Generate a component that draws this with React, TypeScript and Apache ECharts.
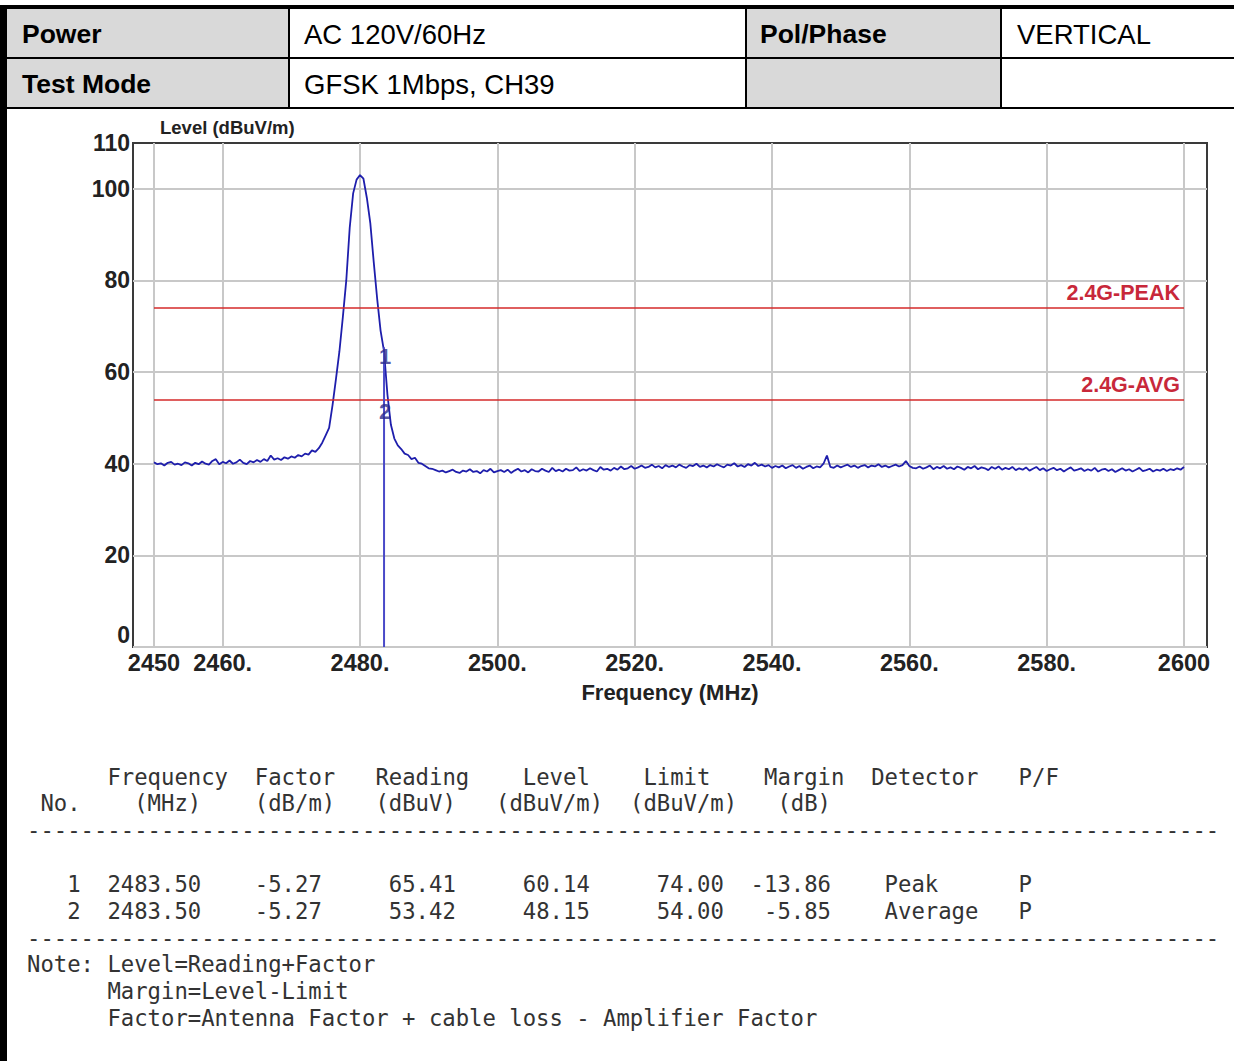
import React, { useEffect, useRef } from "react";
import * as echarts from "echarts";

// ---------------- data ----------------
const FREQ_START = 2450; // MHz, sweep start
const FREQ_STEP = 0.5; // MHz, sweep step
const LEVELS = [
  40.3, 39.9, 40.1, 39.6, 40.2, 40.4, 39.8, 40.0, 39.7, 40.3,
  40.1, 39.6, 40.2, 39.9, 40.5, 40.0, 39.8, 40.6, 41.0, 39.9,
  40.4, 40.1, 40.7, 40.0, 40.3, 40.9, 40.2, 39.9, 40.6, 40.3,
  40.8, 40.4, 41.0, 40.6, 41.8, 40.9, 41.2, 40.8, 41.4, 41.1,
  41.6, 41.3, 41.9, 41.6, 42.2, 42.0, 42.9, 42.6, 43.4, 44.6,
  46.2, 47.8, 52.8, 58.5, 64.5, 72.0, 80.0, 91.5, 99.0, 102.0,
  103.0, 102.2, 98.0, 92.5, 84.0, 76.0, 69.0, 64.5, 55.0, 48.5,
  45.5, 44.0, 43.2, 42.2, 41.9, 41.0, 41.3, 40.2, 40.0, 39.5,
  39.0, 38.9,
  38.6, 38.3, 38.5, 38.1, 38.4, 38.7, 38.2, 38.0, 38.5, 38.3,
  38.8, 38.2, 38.4, 37.9, 38.6, 38.3, 38.9, 38.1, 38.4, 38.6,
  38.2, 38.7, 38.0, 38.5, 38.9, 38.3, 38.6, 38.1, 38.8, 38.4,
  38.3, 38.9, 38.5, 38.2, 39.1, 38.4, 38.7, 38.3, 38.9, 38.5,
  38.6, 39.2, 38.4, 38.8, 38.5, 39.0, 38.6, 38.3, 39.3, 38.7,
  38.9, 38.5, 39.1, 38.7, 39.4, 38.8, 39.0, 39.5, 38.9, 39.2,
  39.6, 39.1, 39.3, 39.8, 39.2, 39.5, 39.0, 39.7, 39.3, 39.6,
  39.2, 39.8, 39.4, 39.1, 39.7, 39.5, 40.0, 39.3, 39.6, 39.2,
  39.7, 39.4, 39.9, 39.5, 39.2, 39.8, 39.6, 40.1, 39.4, 39.7,
  39.3, 39.9, 39.6, 40.2, 39.5, 39.8, 39.4, 39.7, 39.1, 39.5,
  39.2, 39.6, 39.0, 39.4, 39.7, 39.1, 39.5, 38.9, 39.3, 39.6,
  39.0, 39.4, 39.2, 40.0, 41.8, 39.3, 39.1, 39.6, 39.2, 39.5,
  39.8, 39.3, 39.6, 39.1, 39.5, 39.7, 39.2, 39.6, 39.4, 39.9,
  39.3, 39.6, 39.2, 39.5, 39.8, 39.4, 39.7, 40.6, 39.5, 39.1,
  39.0, 39.4, 38.9, 39.2, 39.6, 38.8, 39.3, 39.0, 39.5, 38.9,
  39.2, 38.8, 39.4, 39.1, 38.7, 39.3, 39.0, 39.5, 38.8, 39.2,
  39.0, 38.6, 39.3, 38.9, 39.4, 38.7, 39.1, 38.8, 39.3, 38.6,
  39.0, 38.7, 39.2, 38.5, 38.9, 39.3, 38.6, 39.0, 38.4, 38.8,
  39.1, 38.6, 38.9, 38.3, 38.8, 39.2, 38.5, 38.7, 39.0, 38.4,
  38.8, 38.5, 39.1, 38.3, 38.7, 38.9, 38.4, 38.8, 38.2, 38.6,
  39.0, 38.5, 38.8, 38.3, 38.7, 39.1, 38.4, 38.6, 38.9, 38.3,
  38.7, 38.5, 38.9, 38.4, 38.8, 38.6, 39.0, 38.7, 39.3,
];

const X_MIN = 2446.94;
const X_MAX = 2603.35;
const X_TICKS = [2450, 2460, 2480, 2500, 2520, 2540, 2560, 2580, 2600];
const X_TICK_LABELS = ["2450", "2460.", "2480.", "2500.", "2520.", "2540.", "2560.", "2580.", "2600"];
const Y_MIN = 0;
const Y_MAX = 110;
const Y_GRID_TICKS = [0, 20, 40, 60, 80, 100];
const Y_TICK_LABELS = [0, 20, 40, 60, 80, 100, 110];

const LIMIT_NAMES = ["2.4G-PEAK", "2.4G-AVG"];
const LIMIT_VALUES = [74, 54];
const LIMIT_RANGE = [2450, 2600];

const MARKER_NO = [1, 2];
const MARKER_FREQ = [2483.5, 2483.5];
const MARKER_FACTOR = [-5.27, -5.27];
const MARKER_READING = [65.41, 53.42];
const MARKER_LEVEL = [60.14, 48.15];
const MARKER_LIMIT = [74.0, 54.0];
const MARKER_MARGIN = [-13.86, -5.85];
const MARKER_DETECTOR = ["Peak", "Average"];
const MARKER_PF = ["P", "P"];

const HEADER_ROW1 = ["Power", "AC 120V/60Hz", "Pol/Phase", "VERTICAL"];
const HEADER_ROW2 = ["Test Mode", "GFSK 1Mbps, CH39", "", ""];

const TABLE_HEAD1 = ["Frequency", "Factor", "Reading", "Level", "Limit", "Margin", "Detector", "P/F"];
const TABLE_HEAD2 = ["No.", "(MHz)", "(dB/m)", "(dBuV)", "(dBuV/m)", "(dBuV/m)", "(dB)"];
const NOTES = ["Level=Reading+Factor", "Margin=Level-Limit", "Factor=Antenna Factor + cable loss - Amplifier Factor"];

// ---------------- layout ----------------
const SANS = '"Liberation Sans", Arial, sans-serif';
const MONO = '"DejaVu Sans Mono", monospace';
const CW = 13.4;
const X0 = 27;
const MONO_SIZE = 22.25;
const TEXT_COL = "#333333";

const HEAD1_COLS = [6, 17, 26, 37, 46, 55, 63, 74];
const HEAD2_COLS = [1, 8, 17, 26, 35, 45, 56];

export default function App() {
  const ref = useRef<HTMLDivElement>(null);

  useEffect(() => {
    if (!ref.current) return;
    const chart = echarts.init(ref.current, undefined, { renderer: "svg" });

    const trace = LEVELS.map((v, i) => [FREQ_START + i * FREQ_STEP, v]);

    const monoText = (s: string, col: number, y: number) => ({
      type: "text",
      x: X0 + col * CW,
      y,
      silent: true,
      style: {
        text: s,
        fontFamily: MONO,
        fontSize: MONO_SIZE,
        fill: TEXT_COL,
        align: "left",
        verticalAlign: "middle",
      },
    });

    const graphics: any[] = [];
    // header table
    const rect = (x: number, y: number, w: number, h: number, fill: string) => ({
      type: "rect",
      silent: true,
      shape: { x, y, width: w, height: h },
      style: { fill },
    });
    graphics.push(rect(7, 9, 281, 48, "#d9d9d9"));
    graphics.push(rect(747, 9, 253, 48, "#d9d9d9"));
    graphics.push(rect(7, 59, 281, 48, "#d9d9d9"));
    graphics.push(rect(747, 59, 253, 48, "#d9d9d9"));
    graphics.push(rect(0, 5, 1234, 4, "#000"));
    graphics.push(rect(0, 5, 7, 1056, "#000"));
    graphics.push(rect(7, 57, 1227, 2, "#000"));
    graphics.push(rect(7, 107, 1227, 2, "#000"));
    graphics.push(rect(288, 9, 2, 98, "#000"));
    graphics.push(rect(745, 9, 2, 98, "#000"));
    graphics.push(rect(1000, 9, 2, 98, "#000"));

    const cellX = [22, 304, 760, 1017];
    const rows = [HEADER_ROW1, HEADER_ROW2];
    const rowY = [34, 84];
    rows.forEach((row, r) => {
      row.forEach((t, c) => {
        if (!t) return;
        const bold = c === 0 || c === 2;
        graphics.push({
          type: "text",
          x: cellX[c],
          y: rowY[r],
          silent: true,
          style: {
            text: t,
            fontFamily: SANS,
            fontSize: bold ? 26.5 : 27.5,
            fontWeight: bold ? "bold" : "normal",
            fill: "#000",
            align: "left",
            verticalAlign: "middle",
          },
        });
      });
    });

    // y axis name
    graphics.push({
      type: "text",
      x: 160,
      y: 127,
      silent: true,
      style: {
        text: "Level (dBuV/m)",
        fontFamily: SANS,
        fontSize: 18.5,
        fontWeight: "bold",
        fill: "#222",
        align: "left",
        verticalAlign: "middle",
      },
    });

    // report table
    TABLE_HEAD1.forEach((t, i) => graphics.push(monoText(t, HEAD1_COLS[i], 777)));
    TABLE_HEAD2.forEach((t, i) => graphics.push(monoText(t, HEAD2_COLS[i], 803)));
    const dashes = "-".repeat(89);
    graphics.push(monoText(dashes, 0, 830));
    const rowYs = [884, 911];
    MARKER_NO.forEach((no, i) => {
      const y = rowYs[i];
      const right = (s: string, endCol: number) => graphics.push(monoText(s, endCol - s.length + 1, y));
      right(String(no), 3);
      graphics.push(monoText(MARKER_FREQ[i].toFixed(2), 6, y));
      right(MARKER_FACTOR[i].toFixed(2), 21);
      right(MARKER_READING[i].toFixed(2), 31);
      right(MARKER_LEVEL[i].toFixed(2), 41);
      right(MARKER_LIMIT[i].toFixed(2), 51);
      right(MARKER_MARGIN[i].toFixed(2), 59);
      graphics.push(monoText(MARKER_DETECTOR[i], 64, y));
      graphics.push(monoText(MARKER_PF[i], 74, y));
    });
    graphics.push(monoText(dashes, 0, 938));
    graphics.push(monoText("Note:", 0, 964));
    NOTES.forEach((n, i) => graphics.push(monoText(n, 6, 964 + i * 27)));

    const limitSeries = LIMIT_NAMES.map((name, i) => ({
      type: "line",
      name,
      silent: true,
      data: [],
      z: 4,
      markLine: {
        silent: true,
        symbol: ["none", "none"],
        animation: false,
        lineStyle: { color: "#d42a2a", width: 1.6, type: "solid" },
        label: {
          show: true,
          position: "insideEndTop",
          distance: 4,
          formatter: "{b}",
          color: "#c8283a",
          fontFamily: SANS,
          fontSize: 21.5,
          fontWeight: "bold",
        },
        data: [
          [
            { name, coord: [LIMIT_RANGE[0], LIMIT_VALUES[i]] },
            { coord: [LIMIT_RANGE[1], LIMIT_VALUES[i]] },
          ],
        ],
      },
    }));

    chart.setOption({
      animation: false,
      backgroundColor: "#ffffff",
      textStyle: { fontFamily: SANS },
      grid: {
        left: 133,
        top: 143,
        right: 27,
        bottom: 414,
        show: true,
        borderColor: "#3a3a3a",
        borderWidth: 2,
        backgroundColor: "transparent",
        containLabel: false,
      },
      xAxis: {
        type: "value",
        min: X_MIN,
        max: X_MAX,
        name: "Frequency (MHz)",
        nameLocation: "middle",
        nameGap: 34,
        nameTextStyle: { fontFamily: SANS, fontSize: 22, fontWeight: "bold", color: "#222" },
        axisLine: { show: false },
        axisTick: { show: false, customValues: X_TICKS },
        axisLabel: {
          customValues: X_TICKS,
          margin: 4,
          formatter: (v: number) => {
            const idx = X_TICKS.findIndex((t) => Math.abs(t - v) < 1e-6);
            return idx >= 0 ? X_TICK_LABELS[idx] : "";
          },
          fontFamily: SANS,
          fontSize: 23.5,
          fontWeight: "bold",
          color: "#222",
        },
        splitLine: { show: true, lineStyle: { color: "#c8c8c8", width: 2 } },
      },
      yAxis: {
        type: "value",
        min: Y_MIN,
        max: Y_MAX,
        axisLine: { show: false },
        axisTick: { show: false, customValues: Y_GRID_TICKS },
        axisLabel: {
          customValues: Y_TICK_LABELS,
          margin: 3,
          formatter: (v: number) => (v === 0 ? "{z|0}" : String(v)),
          fontFamily: SANS,
          fontSize: 23,
          fontWeight: "bold",
          color: "#222",
          rich: {
            z: {
              padding: [0, 0, 24, 0],
              fontFamily: SANS,
              fontSize: 23,
              fontWeight: "bold",
              color: "#222",
            },
          },
        },
        splitLine: { show: true, lineStyle: { color: "#c8c8c8", width: 2 } },
      },
      series: [
        {
          type: "line",
          name: "trace",
          silent: true,
          showSymbol: false,
          symbol: "none",
          z: 3,
          lineStyle: { color: "#1e1eac", width: 1.8 },
          data: trace,
        },
        ...limitSeries,
        {
          type: "line",
          name: "marker",
          silent: true,
          showSymbol: false,
          symbol: "none",
          z: 5,
          lineStyle: { color: "#4a4ac8", width: 2 },
          data: [
            [MARKER_FREQ[0], 0],
            [MARKER_FREQ[0], MARKER_READING[0]],
          ],
        },
        {
          type: "scatter",
          name: "markerLabels",
          silent: true,
          symbol: "circle",
          symbolSize: 2,
          itemStyle: { color: "rgba(0,0,0,0)" },
          z: 6,
          data: MARKER_NO.map((n, i) => [MARKER_FREQ[i], MARKER_LEVEL[i], String(n)]),
          label: {
            show: true,
            position: "top",
            distance: 3,
            offset: [1, 0],
            formatter: (p: any) => p.data[2],
            color: "#2a2a8c",
            fontFamily: SANS,
            fontSize: 22,
            fontWeight: "bold",
          },
        },
      ],
      graphic: graphics,
    });

    return () => chart.dispose();
  }, []);

  return (
    <div
      ref={ref}
      style={{ position: "absolute", left: 0, top: 0, width: 1234, height: 1061, background: "#fff" }}
    />
  );
}
